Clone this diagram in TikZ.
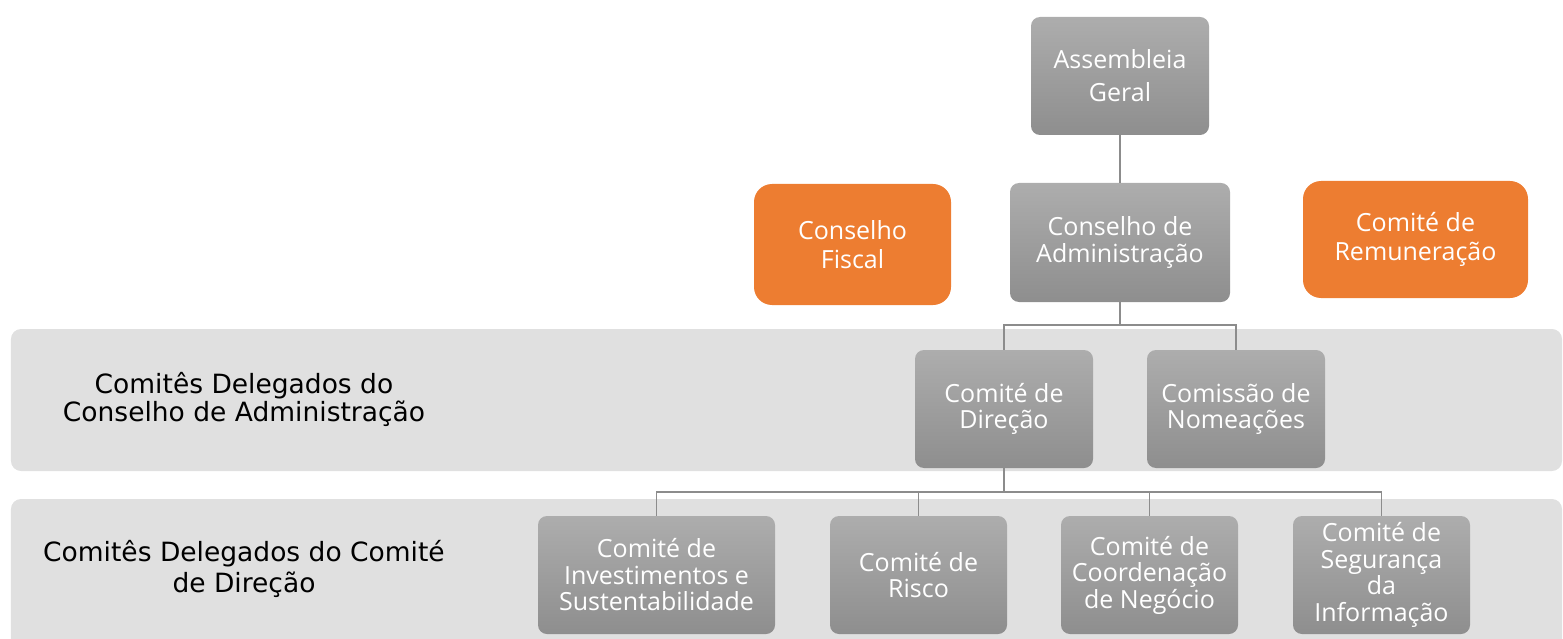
\documentclass[tikz,border=0pt]{standalone}
\usepackage{fontspec}
\setmainfont{Open Sans}
\newfontfamily\labfont{DejaVu Sans}
\definecolor{boxtop}{HTML}{ADADAD}
\definecolor{boxbot}{HTML}{8E8E8E}
\definecolor{orng}{HTML}{ED7D31}
\definecolor{band}{HTML}{E0E0E0}
\definecolor{conn}{HTML}{8C8C8C}
\begin{document}
\begin{tikzpicture}[x=1bp,y=-1bp,
  graybox/.style={rectangle,rounded corners=9bp,top color=boxtop,bottom color=boxbot,draw=none,
    text=white,align=center,inner sep=0pt,font=\fontsize{25bp}{26.5bp}\selectfont},
  orangebox/.style={rectangle,rounded corners=18bp,fill=orng,draw=none,
    text=white,align=center,inner sep=0pt,font=\fontsize{25bp}{29bp}\selectfont},
  bandbox/.style={rectangle,rounded corners=10bp,fill=band,draw=none,inner sep=0pt},
  bandlabel/.style={align=center,inner sep=0pt,text=black,font=\labfont\fontsize{26.5bp}{28bp}\selectfont},
  link/.style={draw=conn,line width=1.3bp}]
\useasboundingbox (0,0) rectangle (1563,639);
% bands
\node[bandbox,minimum width=1551bp,minimum height=142bp] (band1) at (786.5,400) {};
\node[bandbox,minimum width=1551bp,minimum height=150bp] (band2) at (786.5,574) {};
\node[bandlabel] (lab1) at (244,399) {Comitês Delegados do\\Conselho de Administração};
\node[bandlabel,font=\labfont\fontsize{26.5bp}{31bp}\selectfont] (lab2) at (244,568.5) {Comitês Delegados do Comité\\de Direção};
% top
\node[graybox,minimum width=178bp,minimum height=118bp,font=\fontsize{25bp}{33bp}\selectfont] (ag) at (1120,76) {Assembleia\\Geral};
\node[graybox,minimum width=220bp,minimum height=119bp,font=\fontsize{25bp}{27bp}\selectfont] (ca) at (1120,242.5) {Conselho de\\Administração};
\node[orangebox,minimum width=197bp,minimum height=121bp] (cf) at (852.5,244.5) {Conselho\\Fiscal};
\node[orangebox,minimum width=225bp,minimum height=117bp] (cr) at (1415.5,239.5) {Comité de\\Remuneração};
% middle
\node[graybox,minimum width=178bp,minimum height=118bp] (cd) at (1004,409) {Comité de\\Direção};
\node[graybox,minimum width=178bp,minimum height=118bp] (cn) at (1236,409) {Comissão de\\Nomeações};
% bottom
\node[graybox,minimum width=237bp,minimum height=118bp] (ci) at (656.5,575) {Comité de\\Investimentos e\\Sustentabilidade};
\node[graybox,minimum width=177bp,minimum height=118bp] (cri) at (918.5,575) {Comité de\\Risco};
\node[graybox,minimum width=177bp,minimum height=118bp] (cc) at (1149.5,575) {Comité de\\Coordenação\\de Negócio};
\node[graybox,minimum width=177bp,minimum height=118bp] (cs) at (1381.5,575) {Comité de\\Segurança\\da\\Informação};
% connectors
\coordinate (j1) at (1120,325);
\coordinate (j2) at (1004,492);
\draw[link] (ag.south) -- (ca.north);
\draw[link] (ca.south) -- (j1);
\draw[link] (cd.north) |- (j1) -| (cn.north);
\draw[link] (cd.south) -- (j2);
\draw[link] (ci.north) |- (j2) -| (cs.north);
\draw[link] (cri.north) -- (cri.north |- j2);
\draw[link] (cc.north) -- (cc.north |- j2);
\end{tikzpicture}
\end{document}
